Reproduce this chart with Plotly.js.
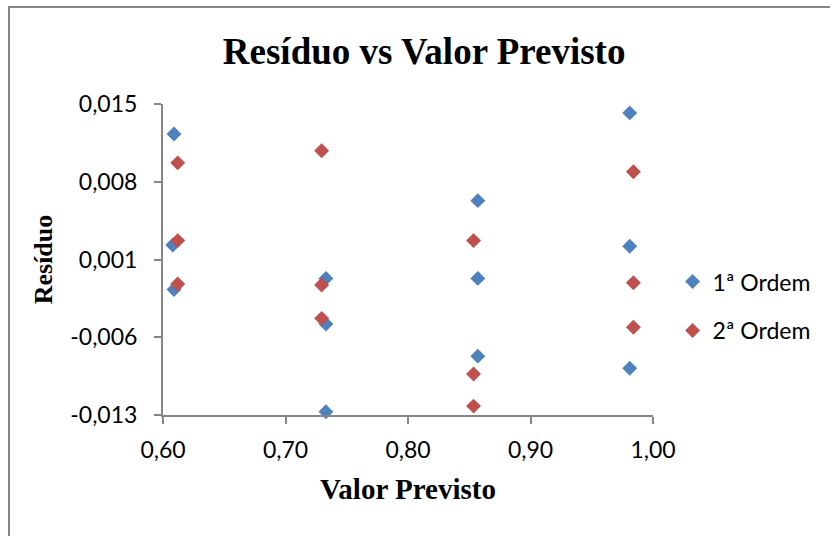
<!DOCTYPE html>
<html>
<head>
<meta charset="utf-8">
<script src="https://cdn.plot.ly/plotly-3.0.1.min.js"></script>
<style>
  html, body { margin: 0; padding: 0; background: #fff; overflow: hidden; }
  #wrap { position: relative; width: 830px; height: 536px; }
  #chart { width: 830px; height: 536px; }
  #frame { position: absolute; left: 8px; top: 6px; width: 900px; height: 700px;
           border: 2px solid #868686; pointer-events: none; box-sizing: border-box; }
</style>
</head>
<body>
<div id="wrap">
  <div id="chart"></div>
  <div id="frame"></div>
</div>
<script>
// ---- data ----
const seriesNames = ["1ª Ordem", "2ª Ordem"];

const x1 = [0.609, 0.608, 0.609, 0.733, 0.733, 0.733, 0.857, 0.857, 0.857, 0.981, 0.981, 0.981];
const y1 = [0.0123, 0.0023, -0.0017, -0.0007, -0.0048, -0.0127, 0.0063, -0.0007, -0.0077, 0.0142, 0.0022, -0.0088];

const x2 = [0.612, 0.612, 0.612, 0.7295, 0.7295, 0.7295, 0.8535, 0.8535, 0.8535, 0.984, 0.984, 0.984];
const y2 = [0.0097, 0.0027, -0.0012, 0.0108, -0.0013, -0.0043, 0.0027, -0.0093, -0.0122, 0.0089, -0.0011, -0.0051];

const xTickVals = [0.60, 0.70, 0.80, 0.90, 1.00];
const xTickText = ["0,60", "0,70", "0,80", "0,90", "1,00"];
const yTickVals = [-0.013, -0.006, 0.001, 0.008, 0.015];
const yTickText = ["-0,013", "-0,006", "0,001", "0,008", "0,015"];

const chartTitle = "Resíduo vs Valor Previsto";
const xTitle = "Valor Previsto";
const yTitle = "Resíduo";

// ---- styles ----
const axisGray = "#868686";
const tickFont = { family: "Lato, 'Open Sans', sans-serif", size: 23, color: "#000" };
const serif = "'Liberation Serif', 'Times New Roman', serif";

const traces = [
  { x: x1, y: y1, name: seriesNames[0], type: "scatter", mode: "markers", legendgroup: "a",
    cliponaxis: false,
    marker: { symbol: "diamond", size: 11.5, color: "#4F81BD", line: { width: 0 } } },
  { x: x2, y: y2, name: seriesNames[1], type: "scatter", mode: "markers", legendgroup: "b",
    cliponaxis: false,
    marker: { symbol: "diamond", size: 11.5, color: "#C0504D", line: { width: 0 } } }
];

const layout = {
  width: 830, height: 536,
  paper_bgcolor: "#fff", plot_bgcolor: "#fff",
  margin: { l: 163, r: 177, t: 104, b: 121 },
  separators: ",.",
  title: {
    text: chartTitle,
    font: { family: serif, size: 37, color: "#000", weight: "bold" },
    xref: "container", x: 0.511, xanchor: "center",
    yref: "container", y: 0.905, yanchor: "middle"
  },
  xaxis: {
    range: [0.6, 1.0],
    tickmode: "array", tickvals: xTickVals, ticktext: xTickText,
    ticks: "outside", ticklen: 7, tickwidth: 2, tickcolor: axisGray,
    showline: true, linecolor: axisGray, linewidth: 2,
    showgrid: false, zeroline: false,
    tickfont: tickFont,
    ticklabelstandoff: 6,
    title: { text: xTitle, standoff: 17,
             font: { family: serif, size: 29, color: "#000", weight: "bold" } },
    automargin: false
  },
  yaxis: {
    range: [-0.013, 0.015],
    tickmode: "array", tickvals: yTickVals, ticktext: yTickText,
    ticks: "outside", ticklen: 7, tickwidth: 2, tickcolor: axisGray,
    showline: true, linecolor: axisGray, linewidth: 2,
    showgrid: false, zeroline: false,
    tickfont: tickFont,
    ticklabelstandoff: 12,
    title: { text: yTitle, standoff: 10,
             font: { family: serif, size: 26, color: "#000", weight: "bold" } },
    automargin: false
  },
  showlegend: true,
  legend: {
    x: 1.04, xanchor: "left", y: 0.35, yanchor: "middle",
    font: tickFont, tracegroupgap: 16,
    bgcolor: "rgba(0,0,0,0)", borderwidth: 0
  }
};

Plotly.newPlot("chart", traces, layout, { displayModeBar: false, staticPlot: true });
</script>
</body>
</html>
